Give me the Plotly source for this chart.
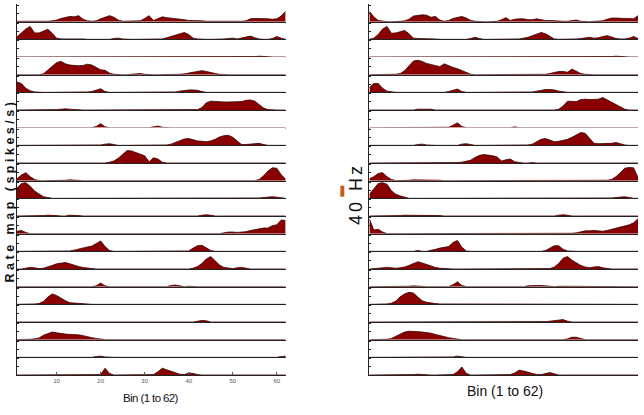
import plotly.graph_objects as go
from plotly.subplots import make_subplots

bins = list(range(1, 63))
x_tick_vals = [10, 20, 30, 40, 50, 60]
y_tick_vals = [0, 20, 40]
scale_label = "40 Hz"
x_title = "Bin (1 to 62)"
y_title = "Rate map (spikes/s)"

# ---- left panel rate maps (Hz), 62 bins each, top row first ----
L1 = [1,1,0,0,0,0,1,1,2,4, 8,11,13,12,15,6,2,1,2,7, 12,15,11,4,1,1,1,1,2,8, 15,3,8,12,10,9,7,6,5,3, 3,3,2,1,1,0,0,0,0,1, 1,1,2,7,8,8,7,7,6,7, 14,26]
L2 = [6,15,26,32,16,16,20,25,15,3, 1,1,2,1,1,1,0,0,1,1, 1,0,2,3,1,0,0,0,0,0, 0,0,0,1,4,7,10,14,17,12, 3,1,0,0,0,0,0,1,2,3, 1,3,6,8,4,1,0,0,2,7, 3,0]
L3 = [0,0,0,0,0,0,0,0,0,0, 0,0,0,0,0,0,0,0,0,1, 1,0,0,0,0,0,0,0,0,0, 0,0,1,1,0,0,0,0,0,0, 0,0,0,0,0,0,0,0,0,0, 0,0,0,1,1,2,1,1,0,0, 0,0]
L4 = [0,0,0,0,0,0,2,12,22,30, 33,27,24,23,22,23,26,24,18,12, 11,4,1,0,0,0,1,2,3,1, 0,0,0,0,0,0,0,1,2,4, 7,9,10,8,5,3,1,0,0,0, 0,0,0,1,0,0,0,0,0,0, 0,0]
L5 = [26,22,10,4,1,0,0,0,0,0, 0,0,0,0,0,0,1,2,6,9, 2,0,0,0,0,1,0,0,0,0, 0,0,0,0,0,0,1,3,5,6, 6,5,2,0,0,0,0,0,0,0, 0,0,0,0,0,0,0,0,0,0, 0,0]
L6 = [0,0,0,0,0,0,0,0,0,1, 2,3,2,1,0,0,0,0,0,0, 0,0,0,0,0,0,0,0,0,0, 0,0,0,0,0,0,0,0,0,0, 0,1,6,18,22,21,21,20,20,20, 20,21,24,25,22,13,5,1,0,0, 0,0]
L7 = [0,0,0,0,0,0,0,0,0,0, 1,1,0,0,0,0,0,0,3,10, 2,0,0,0,0,0,0,0,0,0, 0,2,4,1,0,0,0,0,0,0, 0,0,0,0,0,0,0,0,0,0, 0,0,0,0,0,0,0,0,0,0, 0,0]
L8 = [0,0,0,0,0,0,0,0,0,0, 1,1,0,0,0,0,0,0,0,1, 3,4,2,0,0,0,0,0,0,0, 0,0,0,0,1,3,7,12,16,17, 14,11,10,9,11,15,21,24,25,20, 11,2,2,3,5,5,2,0,0,0, 0,0]
L9 = [0,0,0,0,0,0,0,0,0,0, 0,0,0,0,0,0,0,0,0,0, 0,2,5,12,22,31,30,26,23,18, 3,13,10,2,0,0,0,0,0,1, 0,0,0,0,0,0,0,0,0,0, 0,0,0,0,0,0,0,0,0,0, 0,0]
L10 = [5,14,20,10,3,0,0,0,0,0, 0,1,2,1,0,0,0,0,0,0, 0,0,0,0,0,0,0,0,0,0, 0,0,0,0,0,0,0,0,0,0, 0,0,0,0,0,0,0,0,0,0, 0,0,0,0,0,3,12,24,32,31, 15,4]
L11 = [25,37,39,30,18,10,4,2,0,0, 0,0,0,0,0,0,0,0,0,0, 0,0,0,0,0,0,0,0,0,0, 0,0,0,0,0,0,0,0,0,0, 0,0,0,0,0,0,0,0,0,0, 0,0,0,0,1,1,2,3,4,3, 1,0]
L12 = [0,0,0,0,0,0,1,2,2,1, 0,0,2,2,1,0,0,0,0,0, 0,0,0,0,0,0,0,0,0,0, 0,0,0,0,0,0,0,0,0,0, 0,0,2,3,2,0,0,0,0,0, 0,0,0,0,0,0,0,0,0,0, 0,0]
L13 = [6,8,3,0,0,0,0,0,0,0, 0,0,0,0,0,0,0,0,0,0, 0,0,0,0,0,0,0,0,0,0, 0,0,0,0,0,0,0,0,0,0, 0,0,0,0,0,0,0,2,4,4, 3,4,5,8,10,12,14,14,20,22, 34,33]
L14 = [0,0,0,0,0,1,0,0,1,0, 0,0,1,3,6,9,11,13,19,26, 12,2,0,0,0,0,0,0,0,0, 0,0,0,0,0,0,0,0,0,1, 8,14,15,8,2,0,0,0,0,0, 0,0,0,0,0,0,0,0,0,0, 0,0]
L15 = [0,0,2,4,3,1,2,5,9,13, 15,16,13,9,6,4,2,1,0,0, 0,0,0,0,0,0,0,0,0,0, 0,0,0,0,0,0,0,0,0,0, 2,6,14,25,31,20,10,4,2,1, 3,4,2,0,0,0,0,0,0,0, 0,0]
L16 = [0,0,0,0,0,0,0,0,0,0, 0,0,0,0,0,0,0,0,2,9, 2,0,0,0,0,0,0,0,0,0, 0,0,1,0,0,3,4,2,0,1, 0,0,0,0,0,0,0,0,0,0, 0,0,0,0,0,0,0,0,0,0, 0,0]
L17 = [0,0,0,0,1,2,7,18,26,22, 15,9,4,3,2,2,1,0,0,0, 0,0,0,0,0,0,0,0,0,0, 0,0,0,0,0,0,0,0,0,0, 0,0,0,0,0,0,0,0,0,0, 0,0,0,0,0,0,0,0,0,0, 0,0]
L18 = [0,0,0,0,0,0,0,0,0,0, 0,0,0,0,0,0,0,0,0,0, 0,0,0,0,0,0,0,0,0,0, 0,0,0,0,0,0,0,0,0,0, 0,2,4,3,0,0,0,0,0,0, 0,0,0,0,0,0,0,0,0,0, 0,0]
L19 = [0,0,0,1,2,4,11,16,19,17, 15,14,13,13,12,10,7,5,3,1, 0,0,0,0,0,0,0,0,0,0, 0,0,0,0,0,0,0,0,0,0, 0,0,0,0,0,0,0,0,0,0, 0,0,0,0,0,0,0,0,0,0, 0,0]
L20 = [0,0,0,0,0,0,0,0,0,0, 0,0,0,0,0,0,0,0,2,3, 1,0,0,0,0,0,0,0,0,0, 0,0,0,0,0,0,0,0,0,0, 0,0,0,0,0,0,0,0,0,0, 0,0,0,0,0,0,0,0,0,0, 2,3]
L21 = [0,0,0,0,0,0,0,0,0,0, 0,0,0,0,0,0,0,0,0,1, 17,4,0,0,0,0,0,0,0,0, 0,1,8,17,13,9,5,2,1,5, 4,1,0,0,0,0,0,0,0,0, 0,0,0,0,0,0,0,0,0,0, 0,0]

# ---- right panel rate maps (Hz) ----
R1 = [26,12,3,1,0,0,0,1,2,6, 14,15,17,16,11,13,4,1,3,8, 11,13,9,3,1,0,0,0,0,1, 5,10,3,6,7,7,5,5,7,5, 3,3,2,2,1,1,2,4,1,0, 0,1,1,2,6,9,9,8,8,8, 7,15]
R2 = [0,3,12,26,32,15,16,20,22,14, 3,2,2,2,1,1,0,0,0,0, 0,0,0,2,5,2,0,0,0,0, 0,0,0,0,1,3,5,9,14,17, 14,7,1,0,0,0,0,1,2,3, 5,3,4,7,9,6,2,1,1,3, 7,2]
R3 = [0,0,0,0,0,0,0,0,0,0, 0,0,0,0,0,0,0,0,0,0, 1,0,0,0,0,0,0,0,0,0, 0,0,0,1,0,0,0,0,0,0, 0,0,0,0,0,0,0,0,0,0, 0,1,1,1,1,1,2,1,0,0, 0,0]
R4 = [0,0,0,0,0,0,1,3,10,22, 34,36,33,28,25,22,20,27,22,18, 15,10,5,1,0,0,0,0,0,0, 1,0,0,0,0,0,0,0,0,0, 1,3,6,8,8,6,14,9,3,1, 0,0,0,0,0,0,0,0,0,0, 0,0]
R5 = [12,22,22,10,3,1,0,0,0,0, 0,0,0,0,0,0,0,0,2,5, 8,2,0,0,0,0,0,0,0,0, 0,0,0,0,0,0,0,1,3,5, 7,7,6,3,1,0,0,0,0,0, 0,0,0,0,0,0,0,0,0,0, 0,0]
R6 = [0,0,0,0,0,0,0,0,0,0, 0,2,2,3,2,0,0,0,0,0, 0,0,0,0,0,0,0,0,0,0, 0,0,0,0,0,0,0,0,0,0, 0,0,0,2,10,22,22,21,26,27, 26,26,27,31,25,20,13,7,2,0, 0,0]
R7 = [0,0,0,0,0,0,0,0,0,0, 0,0,0,0,0,0,0,0,1,6, 12,3,0,0,0,0,0,0,0,0, 0,0,0,2,0,0,0,0,0,0, 0,0,0,0,0,0,0,0,0,0, 0,0,0,0,0,0,0,0,0,0, 0,0]
R8 = [0,0,0,0,0,0,0,0,0,0, 0,2,3,1,0,0,0,0,0,0, 0,3,4,2,0,0,0,0,0,0, 0,0,0,0,0,0,1,3,9,15, 17,13,9,10,12,15,20,26,32,30, 17,5,4,4,4,5,7,4,1,0, 0,0]
R9 = [0,0,0,0,0,0,0,0,0,0, 0,0,0,0,0,0,0,0,0,0, 1,2,4,7,14,19,21,20,18,15, 5,8,10,3,1,0,0,1,0,0, 0,0,0,0,0,0,0,0,0,0, 0,0,0,0,0,0,0,0,0,0, 0,0]
R10 = [5,10,18,20,10,3,0,0,0,1, 2,2,2,1,2,1,1,0,0,0, 0,0,0,0,0,0,0,0,0,0, 0,0,0,0,0,0,0,0,0,0, 0,0,0,0,0,0,0,0,0,0, 0,0,0,0,1,3,10,20,31,33, 32,8]
R11 = [10,25,37,39,35,19,10,6,2,0, 0,0,0,0,0,0,0,0,0,0, 0,0,0,0,0,0,0,0,0,0, 0,0,0,0,0,0,0,0,0,0, 0,0,0,0,0,0,0,0,0,0, 0,0,0,0,1,1,2,3,4,2, 0,0]
R12 = [0,0,0,0,0,0,0,1,2,2, 2,2,2,2,2,2,1,0,0,0, 0,0,0,0,0,0,0,0,0,0, 0,0,0,0,0,0,0,0,0,0, 0,0,0,2,3,2,0,0,0,0, 0,0,0,0,0,0,0,0,0,0, 0,0]
R13 = [37,9,11,4,0,0,0,0,0,0, 0,0,0,0,0,0,0,0,0,0, 0,0,0,0,0,0,0,0,0,0, 0,0,0,0,0,0,0,0,0,0, 0,0,0,0,0,0,1,2,5,7, 7,8,7,6,8,11,13,17,20,22, 27,37]
R14 = [0,0,0,0,0,0,0,0,0,0, 0,2,0,0,2,5,8,10,12,22, 27,10,1,0,0,0,0,0,0,0, 0,0,0,0,0,0,0,0,0,0, 2,9,14,14,5,1,0,0,0,0, 0,0,0,0,0,0,0,0,0,0, 0,0]
R15 = [0,1,1,3,4,3,2,3,5,9, 14,18,15,11,8,4,2,1,0,0, 0,0,0,0,0,0,0,0,0,0, 0,0,0,0,0,0,0,0,0,0, 0,1,5,14,27,31,22,15,9,5, 3,5,6,3,1,0,0,0,0,0, 0,0]
R16 = [0,0,0,0,0,0,0,0,0,1, 2,1,0,0,0,0,0,0,0,5, 12,3,0,0,0,0,0,0,0,0, 0,0,0,0,0,0,2,3,3,3, 2,1,0,1,1,0,0,0,0,0, 0,0,0,0,0,0,0,0,0,0, 0,0]
R17 = [0,0,0,0,1,3,8,19,26,30, 28,18,9,5,3,2,1,1,0,0, 0,0,0,0,0,0,0,0,0,0, 0,0,0,0,0,0,0,0,0,0, 0,0,0,0,0,0,0,1,0,0, 0,0,0,0,0,0,0,0,0,0, 0,0]
R18 = [0,0,0,0,0,0,0,0,0,1, 0,1,0,1,0,0,1,1,0,1, 0,0,0,0,0,0,0,0,0,0, 0,0,0,0,0,0,0,0,0,1, 1,2,3,5,6,2,0,0,0,0, 0,0,0,0,0,0,0,0,0,0, 0,0]
R19 = [0,0,0,0,1,3,8,15,19,21, 21,20,19,18,16,13,10,8,5,3, 1,0,0,0,0,0,0,0,0,0, 0,0,0,0,0,0,0,0,0,0, 0,0,0,0,0,2,6,6,2,0, 0,0,0,0,0,0,0,0,0,0, 0,0]
R20 = [0,0,0,0,0,0,0,0,0,0, 0,0,0,0,0,0,0,0,0,1, 3,1,0,0,0,0,0,0,0,0, 0,0,0,0,0,0,0,0,0,0, 0,0,0,0,0,0,0,0,0,0, 0,0,0,0,0,0,0,0,0,0, 0,0]
R21 = [0,0,0,0,0,0,0,0,0,0, 1,2,1,0,0,0,0,0,0,1, 8,20,4,0,0,0,0,0,0,0, 0,0,1,5,12,10,7,4,1,1, 4,6,3,0,0,0,0,0,0,0, 0,0,0,0,0,0,0,0,0,0, 0,0]

left_rows = [L1, L2, L3, L4, L5, L6, L7, L8, L9, L10, L11, L12, L13, L14, L15, L16, L17, L18, L19, L20, L21]
right_rows = [R1, R2, R3, R4, R5, R6, R7, R8, R9, R10, R11, R12, R13, R14, R15, R16, R17, R18, R19, R20, R21]

n_rows = len(left_rows)
W, H = 644, 415
ML, MR, MT, MB = 17, 6, 4, 40
PW = W - ML - MR
PH = H - MT - MB

def px(xp):
    return (xp - ML) / PW

def py(yp):
    return (H - MB - yp) / PH

left_end = px(285.5)
right_start = px(369.3)

fig = make_subplots(rows=n_rows, cols=2, vertical_spacing=0,
                    horizontal_spacing=right_start - left_end,
                    shared_xaxes=False)

FILL = "#880000"
for c, rows in enumerate([left_rows, right_rows], start=1):
    for r, vals in enumerate(rows, start=1):
        fig.add_trace(go.Scatter(x=bins, y=vals, mode="lines", fill="tozeroy",
                                 fillcolor=FILL,
                                 line=dict(color="#3a0000", width=0.8),
                                 hoverinfo="skip", showlegend=False),
                      row=r, col=c)

fig.update_xaxes(range=[1, 62], showgrid=False, zeroline=False,
                 showline=True, linecolor="#222", linewidth=1,
                 ticks="", showticklabels=False)
fig.update_yaxes(range=[0, 44], showgrid=False, zeroline=False,
                 showline=True, linecolor="#222", linewidth=1,
                 tickvals=y_tick_vals, ticks="inside", ticklen=2,
                 tickcolor="#222", showticklabels=False)
fig.update_xaxes(row=n_rows, col=1, tickvals=x_tick_vals, ticks="inside",
                 ticklen=3, tickcolor="#555", showticklabels=True,
                 tickfont=dict(size=6, color="#555", family="Liberation Sans"))

fig.add_annotation(text='<span style="letter-spacing:3.5px">' + y_title + '</span>',
                   xref="paper", yref="paper", x=px(9.5), y=py(191),
                   xanchor="center", yanchor="middle", textangle=-90, showarrow=False,
                   font=dict(size=12.5, color="#111", family="Liberation Sans", weight="bold"))
fig.add_annotation(text='<span style="letter-spacing:3px">' + scale_label + '</span>',
                   xref="paper", yref="paper", x=px(355.5), y=py(194.5),
                   xanchor="center", yanchor="middle", textangle=-90, showarrow=False,
                   font=dict(size=18, color="#111", family="Liberation Sans"))
fig.add_shape(type="rect", xref="paper", yref="paper",
              x0=px(340.3), x1=px(344.3), y0=py(196.7), y1=py(185.7),
              fillcolor="#c0601e", line=dict(width=0))
fig.add_annotation(text='<span style="letter-spacing:-0.6px">' + x_title + '</span>',
                   xref="paper", yref="paper", x=px(151), y=py(398),
                   xanchor="center", yanchor="middle", showarrow=False,
                   font=dict(size=11.5, color="#111", family="Liberation Sans"))
fig.add_annotation(text=x_title, xref="paper", yref="paper", x=px(505.3), y=py(391),
                   xanchor="center", yanchor="middle", showarrow=False,
                   font=dict(size=14, color="#111", family="Liberation Sans"))

fig.update_layout(width=W, height=H, margin=dict(l=ML, r=MR, t=MT, b=MB),
                  paper_bgcolor="white", plot_bgcolor="white")
fig.write_html("out.html", config={"displayModeBar": False},
               post_script="document.body.style.margin='0';document.body.style.overflow='hidden';")
